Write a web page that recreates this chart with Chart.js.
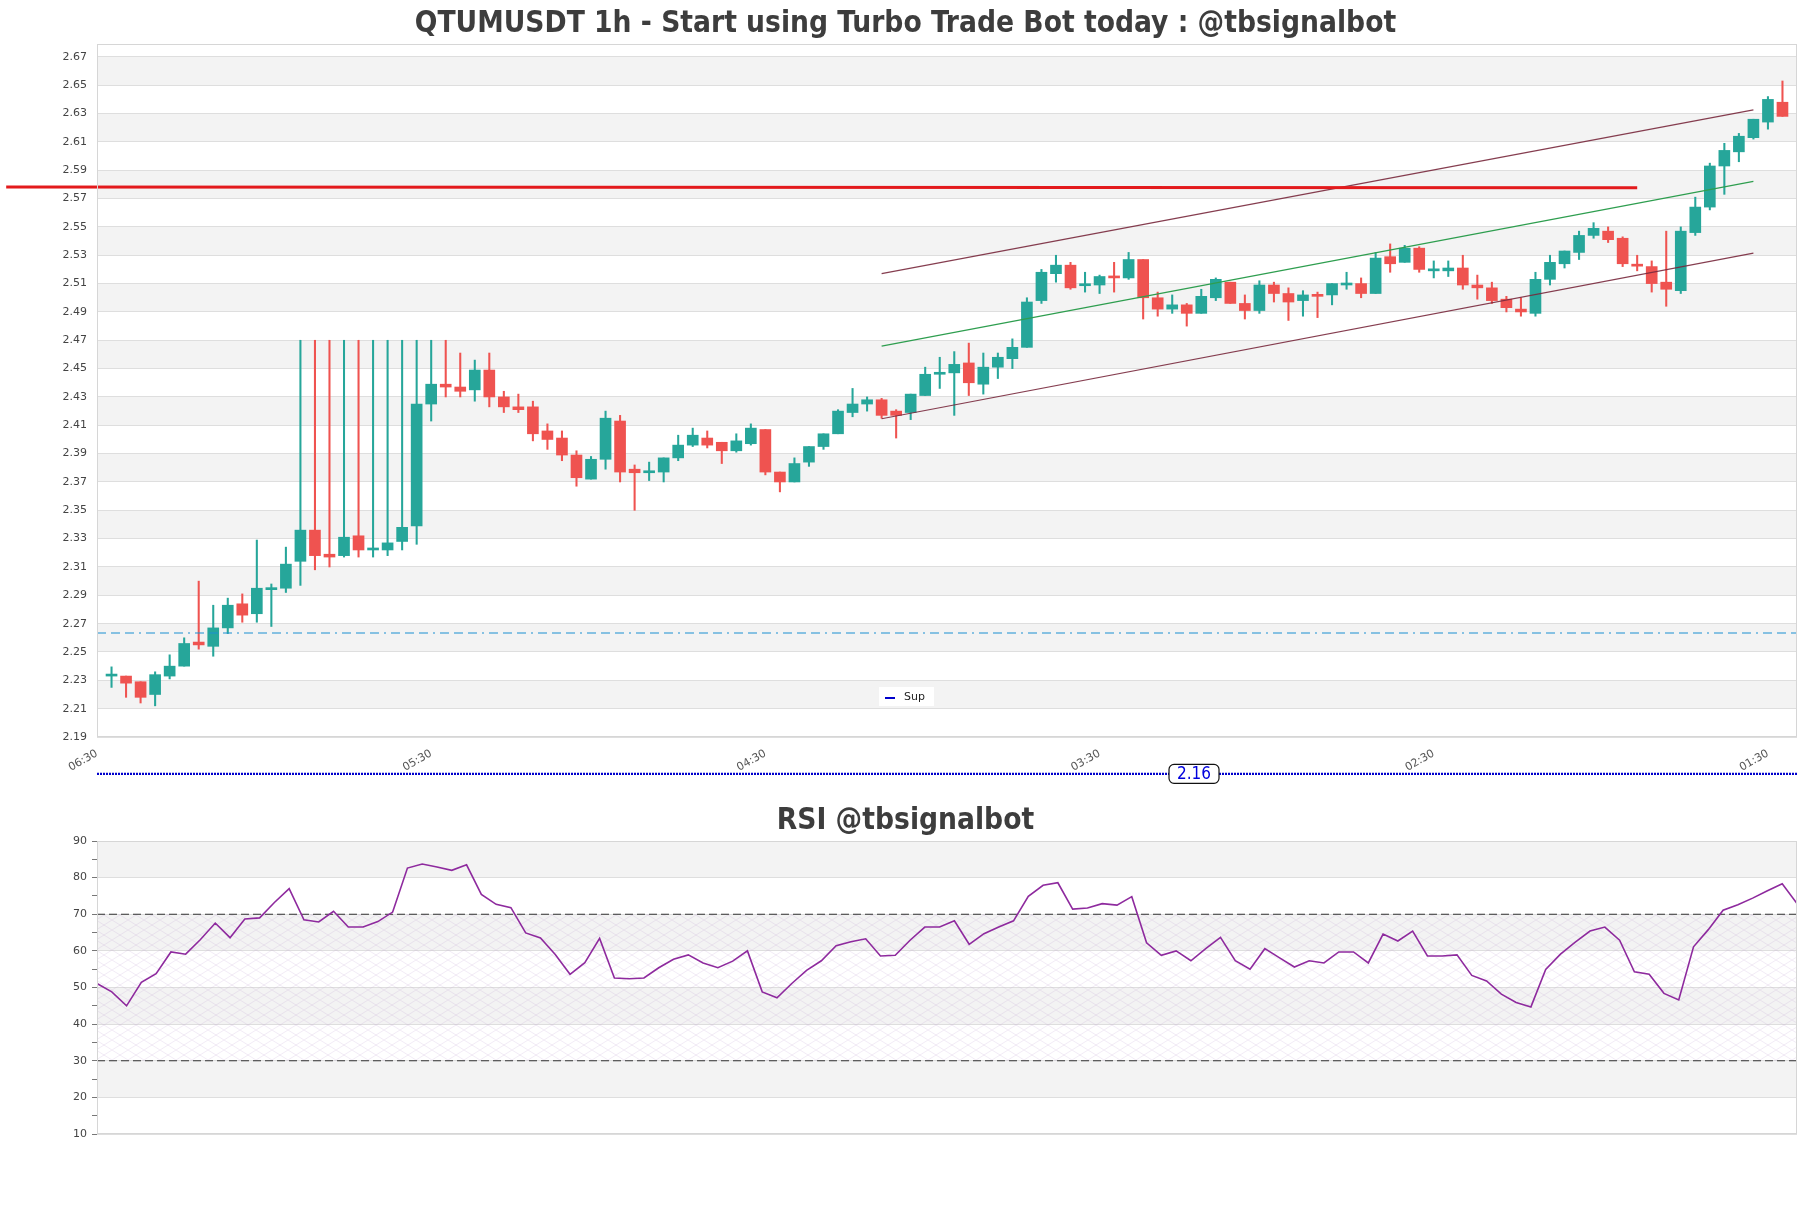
<!DOCTYPE html>
<html>
<head>
<meta charset="utf-8">
<script src="https://cdn.jsdelivr.net/npm/chart.js@4.4.1/dist/chart.umd.min.js"></script>
<style>
  body { margin: 0; background: #fff; width: 1811px; height: 1208px; position: relative; overflow: hidden; }
  .title { position: absolute; left: 0; width: 1811px; text-align: center; font-weight: bold; color: #3d3d3d;
           font-family: 'DejaVu Sans Condensed', 'DejaVu Sans', sans-serif; font-stretch: condensed; font-size: 29.6px; line-height: 34px; }
  #mainTitle { top: 5px; }
  #rsiTitle { top: 802px; }
  #mainWrap { position: absolute; left: 0; top: 0; }
  #rsiWrap { position: absolute; left: 0; top: 800px; }
</style>
</head>
<body>
<div id="mainWrap"><canvas id="priceChart" width="1811" height="800"></canvas></div>
<div id="rsiWrap"><canvas id="rsiChart" width="1811" height="408"></canvas></div>
<div class="title" id="mainTitle">QTUMUSDT 1h - Start using Turbo Trade Bot today : @tbsignalbot</div>
<div class="title" id="rsiTitle">RSI @tbsignalbot</div>
<script>
// ---- data ----
const opens = [2.233,2.233,2.229,2.220,2.233,2.240,2.257,2.254,2.267,2.284,
  2.277,2.294,2.295,2.314,2.336,2.319,2.318,2.332,2.322,2.322,
  2.328,2.339,2.425,2.439,2.437,2.435,2.449,2.430,2.423,2.423,
  2.406,2.401,2.389,2.372,2.386,2.413,2.379,2.3765,2.377,2.387,
  2.396,2.401,2.398,2.392,2.397,2.407,2.377,2.370,2.384,2.395,
  2.404,2.419,2.425,2.428,2.420,2.419,2.431,2.446,2.447,2.454,
  2.439,2.451,2.457,2.465,2.498,2.517,2.523,2.5085,2.509,2.515,
  2.514,2.527,2.500,2.492,2.495,2.489,2.500,2.511,2.496,2.491,
  2.509,2.503,2.498,2.502,2.502,2.509,2.510,2.503,2.529,2.525,
  2.535,2.519,2.519,2.521,2.509,2.507,2.499,2.492,2.489,2.513,
  2.524,2.532,2.544,2.547,2.542,2.5227,2.522,2.511,2.505,2.546,
  2.564,2.593,2.603,2.613,2.624,2.638];
const closes = [2.234,2.228,2.218,2.234,2.240,2.256,2.255,2.267,2.283,2.276,
  2.295,2.295,2.312,2.336,2.318,2.317,2.331,2.322,2.3225,2.327,
  2.338,2.425,2.439,2.437,2.434,2.449,2.430,2.423,2.421,2.404,
  2.400,2.389,2.373,2.386,2.415,2.377,2.3765,2.377,2.387,2.396,
  2.403,2.396,2.392,2.399,2.408,2.377,2.370,2.383,2.395,2.404,
  2.420,2.425,2.428,2.417,2.417,2.432,2.446,2.447,2.453,2.440,
  2.451,2.458,2.465,2.497,2.518,2.523,2.507,2.509,2.515,2.514,
  2.527,2.500,2.492,2.495,2.489,2.501,2.513,2.496,2.491,2.509,
  2.503,2.497,2.502,2.501,2.510,2.510,2.503,2.528,2.524,2.535,
  2.520,2.520,2.521,2.509,2.507,2.498,2.493,2.490,2.513,2.525,
  2.533,2.544,2.549,2.541,2.524,2.5223,2.510,2.506,2.547,2.564,
  2.593,2.604,2.614,2.626,2.640,2.628];
const highs = [2.2395,2.233,2.229,2.236,2.248,2.260,2.300,2.283,2.288,2.291,
  2.329,2.298,2.324,2.47,2.47,2.47,2.47,2.47,2.47,2.47,
  2.47,2.47,2.47,2.47,2.461,2.456,2.461,2.434,2.432,2.427,
  2.411,2.406,2.392,2.388,2.420,2.417,2.382,2.384,2.387,2.403,
  2.408,2.406,2.398,2.404,2.411,2.407,2.377,2.387,2.395,2.404,
  2.421,2.436,2.430,2.429,2.421,2.432,2.451,2.458,2.462,2.468,
  2.461,2.461,2.471,2.500,2.520,2.530,2.525,2.518,2.516,2.525,
  2.532,2.527,2.504,2.502,2.496,2.506,2.514,2.511,2.502,2.512,
  2.511,2.507,2.505,2.504,2.510,2.518,2.514,2.532,2.538,2.537,
  2.536,2.526,2.526,2.530,2.516,2.511,2.501,2.500,2.518,2.530,
  2.533,2.547,2.553,2.550,2.543,2.530,2.526,2.547,2.550,2.571,
  2.595,2.609,2.616,2.626,2.642,2.653];
const lows = [2.225,2.218,2.214,2.212,2.231,2.240,2.252,2.247,2.263,2.271,
  2.271,2.268,2.292,2.297,2.308,2.310,2.317,2.317,2.317,2.318,
  2.322,2.326,2.413,2.430,2.430,2.427,2.423,2.419,2.419,2.399,
  2.393,2.385,2.367,2.372,2.379,2.370,2.350,2.371,2.370,2.385,
  2.395,2.394,2.383,2.391,2.396,2.375,2.363,2.370,2.381,2.393,
  2.404,2.416,2.420,2.415,2.401,2.414,2.431,2.436,2.417,2.431,
  2.432,2.443,2.450,2.465,2.496,2.511,2.506,2.504,2.503,2.504,
  2.513,2.485,2.487,2.489,2.480,2.489,2.498,2.496,2.485,2.489,
  2.497,2.484,2.487,2.486,2.495,2.506,2.500,2.503,2.518,2.525,
  2.518,2.514,2.515,2.506,2.499,2.496,2.490,2.487,2.487,2.509,
  2.521,2.527,2.542,2.539,2.522,2.519,2.504,2.494,2.503,2.544,
  2.562,2.573,2.596,2.612,2.619,2.628];

const rsiValues = [51.1,48.8,45.0,51.4,53.8,59.7,59.1,63.1,67.6,63.6,
  68.7,69.0,73.2,77.0,68.5,67.9,70.8,66.5,66.5,68.0,
  70.6,82.6,83.7,82.9,82.0,83.5,75.4,72.7,71.8,64.9,
  63.5,59.0,53.6,56.8,63.4,52.6,52.4,52.6,55.4,57.7,
  58.9,56.7,55.4,57.2,60.0,48.8,47.2,51.1,54.7,57.3,
  61.4,62.5,63.3,58.6,58.8,62.9,66.5,66.5,68.2,61.8,
  64.7,66.5,68.2,74.9,77.9,78.6,71.4,71.7,72.9,72.5,
  74.8,62.2,58.8,60.0,57.3,60.6,63.7,57.3,55.0,60.6,
  58.1,55.6,57.3,56.7,59.7,59.7,56.7,64.6,62.7,65.4,
  58.6,58.6,58.9,53.3,51.8,48.2,45.9,44.7,54.9,59.1,
  62.4,65.4,66.5,62.9,54.3,53.6,48.4,46.6,61.1,65.8,
  71.1,72.6,74.4,76.4,78.3,72.9];

const priceTicks = [2.19,2.21,2.23,2.25,2.27,2.29,2.31,2.33,2.35,2.37,2.39,2.41,2.43,
  2.45,2.47,2.49,2.51,2.53,2.55,2.57,2.59,2.61,2.63,2.65,2.67];
const timeTickIdx = [-1, 22, 45, 68, 91, 114];
const timeLabels = ['06:30', '05:30', '04:30', '03:30', '02:30', '01:30'];
const rsiTicks = [10,15,20,25,30,35,40,45,50,55,60,65,70,75,80,85,90];
const rsiLevels = [70, 30];

// drawn levels / trend lines (x in candle index)
const resX = [-7.25, 105];
const resY = [2.5782, 2.5776];
const channelX = [53, 113];
const upperY = [2.517, 2.6326];
const midY = [2.4659, 2.5822];
const lowerY = [2.4146, 2.5315];
const dashLevel = 2.2634;
const supLevel = 2.164;
const supLabelAt = 74.5;

const GREEN = '#26a69a', RED = '#ef5350';
const candleColors = opens.map((o, i) => closes[i] >= o ? GREEN : RED);
const pts = (xs, ys) => xs.map((x, i) => ({x: x, y: ys[i]}));

// alternating grey bands between major ticks
function drawBands(chart, majors) {
  const {ctx, chartArea: a, scales: {y}} = chart;
  ctx.save();
  ctx.fillStyle = '#f3f3f3';
  for (let k = 1; k < majors.length - 1; k += 2) {
    const top = y.getPixelForValue(majors[k + 1]), bot = y.getPixelForValue(majors[k]);
    ctx.fillRect(a.left, top, a.right - a.left, bot - top);
  }
  ctx.restore();
}
function drawFrame(chart) {
  const {ctx, chartArea: a} = chart;
  ctx.save();
  ctx.strokeStyle = '#d6d6d6';
  ctx.lineWidth = 1;
  ctx.strokeRect(a.left + 0.5, a.top + 0.5, a.right - a.left - 1, a.bottom - a.top - 1);
  ctx.restore();
}

const priceDecor = {
  id: 'priceDecor',
  beforeDraw(chart) { drawBands(chart, priceTicks); },
  afterDraw(chart) {
    drawFrame(chart);
    const {ctx, chartArea: a, scales: {x, y}} = chart;
    ctx.save();
    // legend "Sup"
    const lx = a.left + 782, ly = a.bottom - 50;
    ctx.fillStyle = 'rgba(255,255,255,0.95)';
    ctx.fillRect(lx, ly, 55, 19);
    ctx.strokeStyle = '#0000cc';
    ctx.lineWidth = 2;
    ctx.beginPath(); ctx.moveTo(lx + 6, ly + 11); ctx.lineTo(lx + 16, ly + 11); ctx.stroke();
    ctx.fillStyle = '#222';
    ctx.font = '11px "DejaVu Sans"';
    ctx.textBaseline = 'middle';
    ctx.fillText('Sup', lx + 25, ly + 10);
    // support value label
    const px = x.getPixelForValue(supLabelAt), py = y.getPixelForValue(supLevel);
    const w = 50, h = 19, r = 5;
    ctx.beginPath();
    ctx.roundRect(px - w / 2, py - h / 2, w, h, r);
    ctx.fillStyle = '#fff'; ctx.fill();
    ctx.strokeStyle = '#111'; ctx.lineWidth = 1.2; ctx.stroke();
    ctx.fillStyle = '#0000dd';
    ctx.font = '17px "DejaVu Sans Condensed", "DejaVu Sans"';
    ctx.textAlign = 'center';
    ctx.fillText(supLevel.toFixed(2), px, py + 1);
    ctx.restore();
  }
};

new Chart(document.getElementById('priceChart'), {
  type: 'bar',
  data: {
    datasets: [
      { type: 'line', data: pts(resX, resY), borderColor: '#e31a1c', borderWidth: 3, pointRadius: 0, clip: false, order: 0 },
      { type: 'line', data: pts(channelX, upperY), borderColor: 'rgba(120,40,60,0.9)', borderWidth: 1.2, pointRadius: 0, order: 0 },
      { type: 'line', data: pts(channelX, midY), borderColor: '#2e9e4f', borderWidth: 1.2, pointRadius: 0, order: 0 },
      { type: 'line', data: pts(channelX, lowerY), borderColor: 'rgba(120,40,60,0.9)', borderWidth: 1.2, pointRadius: 0, order: 0 },
      { type: 'line', data: pts([-1, opens.length], [dashLevel, dashLevel]), borderColor: '#1b8fd2', borderWidth: 1.2,
        borderDash: [9, 5, 9, 5, 9, 5, 2, 5], pointRadius: 0, order: 0 },
      { type: 'line', data: pts([-1, opens.length], [supLevel, supLevel]), borderColor: '#0000cc', borderWidth: 2.2,
        borderDash: [2, 1], pointRadius: 0, clip: false, order: 0 },
      { data: opens.map((o, i) => ({x: i, y: [o, closes[i]]})), backgroundColor: candleColors,
        barThickness: 11, minBarLength: 2, grouped: false, order: 1 },
      { data: lows.map((l, i) => ({x: i, y: [l, highs[i]]})), backgroundColor: candleColors,
        barThickness: 1.4, grouped: false, order: 2 }
    ]
  },
  options: {
    responsive: false,
    animation: false,
    devicePixelRatio: 1,
    layout: { padding: { top: 44, right: 14, bottom: 0, left: 0 } },
    plugins: { legend: { display: false }, tooltip: { enabled: false }, title: { display: false } },
    scales: {
      x: {
        type: 'linear', min: -1, max: opens.length, offset: false,
        grid: { display: false }, border: { display: false },
        afterBuildTicks: s => { s.ticks = timeTickIdx.map(v => ({value: v})); },
        afterFit: s => { s.height = 63; },
        ticks: { autoSkip: false, minRotation: 30, maxRotation: 30, padding: 2,
                 color: '#555', font: { family: 'DejaVu Sans', size: 11 },
                 callback: (v, i) => timeLabels[i] }
      },
      y: {
        min: 2.19, max: 2.6791,
        border: { display: false },
        grid: { color: '#dedede', drawTicks: false },
        afterBuildTicks: s => { s.ticks = priceTicks.map(v => ({value: v})); },
        afterFit: s => { s.width = 97; },
        ticks: { padding: 10, color: '#444', font: { family: 'DejaVu Sans', size: 11 },
                 callback: v => v.toFixed(2) }
      }
    }
  },
  plugins: [priceDecor]
});

// ---- RSI panel ----
const hatch = (() => {
  const c = document.createElement('canvas');
  c.width = 16; c.height = 10;
  const g = c.getContext('2d');
  g.strokeStyle = 'rgba(185,150,210,0.32)';
  g.lineWidth = 0.6;
  g.beginPath(); g.moveTo(0, 0); g.lineTo(16, 10); g.moveTo(0, 10); g.lineTo(16, 0); g.stroke();
  return c;
})();

const rsiDecor = {
  id: 'rsiDecor',
  beforeDraw(chart) { drawBands(chart, rsiTicks.filter(v => v % 10 === 0)); },
  beforeDatasetsDraw(chart) {
    const {ctx, chartArea: a, scales: {y}} = chart;
    ctx.save();
    ctx.fillStyle = ctx.createPattern(hatch, 'repeat');
    const top = y.getPixelForValue(rsiLevels[0]), bot = y.getPixelForValue(rsiLevels[1]);
    ctx.fillRect(a.left, top, a.right - a.left, bot - top);
    ctx.restore();
  },
  afterDraw(chart) { drawFrame(chart); }
};

const lastIdx = rsiValues.length - 1;
new Chart(document.getElementById('rsiChart'), {
  type: 'line',
  data: {
    datasets: [
      { data: rsiValues.map((v, i) => ({x: i, y: v})), borderColor: '#8e2a9e', borderWidth: 1.6, pointRadius: 0, order: 0 },
      { data: pts([0, lastIdx], [rsiLevels[0], rsiLevels[0]]), borderColor: '#333', borderWidth: 1.2, borderDash: [8, 4], pointRadius: 0, order: 1 },
      { data: pts([0, lastIdx], [rsiLevels[1], rsiLevels[1]]), borderColor: '#333', borderWidth: 1.2, borderDash: [8, 4], pointRadius: 0, order: 1 }
    ]
  },
  options: {
    responsive: false,
    animation: false,
    devicePixelRatio: 1,
    layout: { padding: { top: 41, right: 14, bottom: 74, left: 0 } },
    plugins: { legend: { display: false }, tooltip: { enabled: false } },
    scales: {
      x: { type: 'linear', min: 0, max: lastIdx, display: false },
      y: {
        min: 10, max: 90,
        border: { display: false },
        grid: { color: c => (c.tick && c.tick.value % 10 === 0) ? '#dedede' : 'rgba(0,0,0,0)',
                tickColor: '#777', tickLength: 5 },
        afterBuildTicks: s => { s.ticks = rsiTicks.map(v => ({value: v})); },
        afterFit: s => { s.width = 97; },
        ticks: { padding: 5, color: '#444', font: { family: 'DejaVu Sans', size: 11 },
                 callback: v => v % 10 === 0 ? v : '' }
      }
    }
  },
  plugins: [rsiDecor]
});
</script>
</body>
</html>
